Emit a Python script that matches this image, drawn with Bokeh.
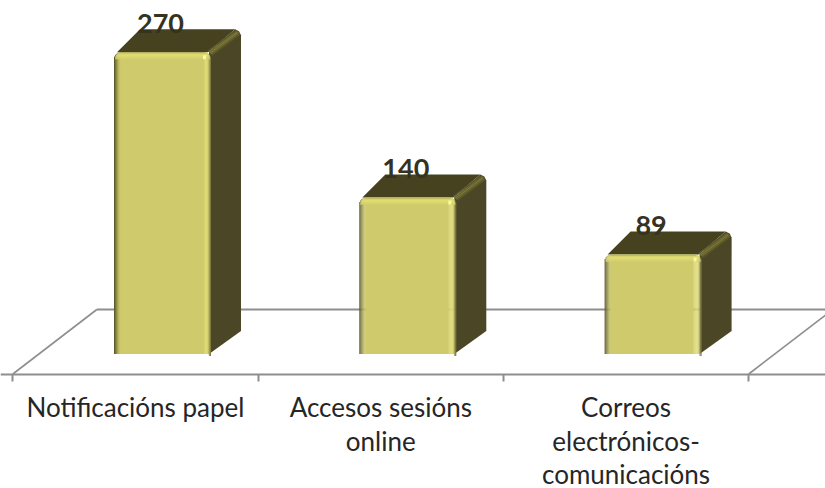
from bokeh.plotting import figure
from bokeh.embed import file_html
from bokeh.resources import INLINE
from bokeh.models import Range1d, LinearAxis, FixedTicker
from bokeh.core.properties import value
import math

categories = ["Notificacións papel", "Accesos sesións\nonline", "Correos\nelectrónicos-\ncomunicacións"]
values = [270, 140, 89]
centers = [0, 1, 2]
boundaries = [-0.5, 0.5, 1.5, 2.5]

PX_X = 245.3          # pixels per category
PX_Y = 1.118          # pixels per unit
W, H = 825, 488
X0, Y0 = 135, 353.5   # where category 0 / value 0 sit in the figure

p = figure(width=W, height=H, output_backend="svg", toolbar_location=None,
           x_range=Range1d(-X0 / PX_X, (W - X0) / PX_X),
           y_range=Range1d((Y0 - H) / PX_Y, Y0 / PX_Y),
           x_axis_type=None, y_axis_type=None, min_border=0,
           outline_line_color=None, background_fill_color="white", border_fill_color="white")
p.grid.visible = False

def X(i, dx=0.0):
    return i + dx / PX_X

def Y(v, dy=0.0):          # dy in pixels, positive = downwards
    return v - dy / PX_Y

GREY = "#8e8e8e"
FLOOR_FRONT, FLOOR_BACK = 20.0, -44.5   # pixels below the zero line

# floor
p.line([X(-0.5, 84), X(2.5, 84)], [Y(0, FLOOR_BACK)] * 2, line_color=GREY, line_width=2)
p.line([X(-0.5), X(-0.5, 84)], [Y(0, FLOOR_FRONT), Y(0, FLOOR_BACK)], line_color=GREY, line_width=1.6)
p.line([X(2.5), X(2.5, 84)], [Y(0, FLOOR_FRONT), Y(0, FLOOR_BACK)], line_color=GREY, line_width=1.6)

axis = LinearAxis(ticker=FixedTicker(ticks=centers, minor_ticks=boundaries),
                  major_label_overrides={c: t for c, t in zip(centers, categories)},
                  major_label_text_font="Lato", major_label_text_font_size="26px",
                  major_label_text_color="#262626", major_label_text_line_height=1.05,
                  major_label_standoff=10,
                  axis_line_color=GREY, axis_line_width=2, major_tick_line_color=None,
                  minor_tick_line_color=GREY, minor_tick_line_width=2,
                  minor_tick_in=0, minor_tick_out=7, fixed_location=Y(0, FLOOR_FRONT))
p.add_layout(axis, "below")

LEFT, WIDTH, RAD = -21.5, 97.0, 7.0
BACK_L, BACK_R, DEPTH = 26, 30, 23

TOP_C, SIDE_C, FACE_C = "#46421f", "#4a4626", "#cfcb6d"
left_ramp = ["#5f5c2c", "#77743a", "#8f8c48", "#a5a253", "#b8b55e", "#c6c367"]
right_ramp = ["#d0cc6e", "#d6d270", "#dcd873", "#dfdb75", "#dad672", "#c6c268", "#a5a256", "#7f7c42"]
top_ramp = ["#a9a655", "#cfcb68", "#e2de73", "#e3df74", "#dfdb72", "#d9d570", "#d3cf6e"]
bevel_ramp = ["#5b5729", "#6f6a32", "#7f7a3a", "#6f6a32", "#5b5729"]

for i, v in enumerate(values):
    l, r = LEFT, LEFT + WIDTH
    # side face
    p.patch([X(i, r - 2), X(i, r + BACK_R - 6), X(i, r + BACK_R - 2), X(i, r + BACK_R), X(i, r + BACK_R), X(i, r - 2)],
            [Y(v, 0), Y(v, -DEPTH), Y(v, -DEPTH + 2), Y(v, -DEPTH + 6), Y(0, -DEPTH), Y(0, 0)],
            fill_color=SIDE_C, line_color=None)
    # top face
    p.patch([X(i, l + 3), X(i, l + BACK_L), X(i, r + BACK_R - 6), X(i, r - 3)],
            [Y(v, 0), Y(v, -DEPTH), Y(v, -DEPTH), Y(v, 0)],
            fill_color=TOP_C, line_color=None)
    # bevel along the top right edge
    for k, c in enumerate(bevel_ramp):
        off = k - 2
        p.line([X(i, r - 1 + off), X(i, r + BACK_R - 3 + off)],
               [Y(v, 1 + off), Y(v, -DEPTH + 3 + off)], line_color=c, line_width=1.4)
    # front face: columns with the corners cut off
    def corner(d):
        if d >= RAD:
            return 0.0
        return RAD - math.sqrt(max(RAD ** 2 - (RAD - d) ** 2, 0))
    n_l, n_r = len(left_ramp), len(right_ramp)
    p.quad(left=X(i, l + n_l), right=X(i, r - n_r), top=Y(v, 0), bottom=Y(0, 0), fill_color=FACE_C, line_color=None)
    for k, c in enumerate(left_ramp):
        p.quad(left=X(i, l + k), right=X(i, l + k + 1.2), top=Y(v, corner(k + 0.5)), bottom=Y(0, 0),
               fill_color=c, line_color=None)
    for k, c in enumerate(right_ramp):
        d = n_r - k - 0.5
        p.quad(left=X(i, r - n_r + k - 0.2), right=X(i, r - n_r + k + 1), top=Y(v, corner(d)), bottom=Y(0, 2 if k > 5 else 0),
               fill_color=c, line_color=None)
    # top band of the face
    for k, c in enumerate(top_ramp):
        ins = corner(k + 0.5)
        p.quad(left=X(i, l + ins + 1), right=X(i, r - ins - 1), top=Y(v, k), bottom=Y(v, k + 1.2),
               fill_color=c, line_color=None)
    # small glint at the corner
    p.quad(left=X(i, r - 8), right=X(i, r - 5), top=Y(v, 3), bottom=Y(v, 7), fill_color="#fbf8a0", line_color=None)
    # value label
    p.text([X(i, 25)], [v], text=[str(v)], y_offset=-29, text_align="center", text_baseline="middle",
           text_font=value("Lato"), text_font_style="bold", text_font_size="27px", text_color="#35321f")

open("out.html", "w").write(file_html(p, INLINE))
